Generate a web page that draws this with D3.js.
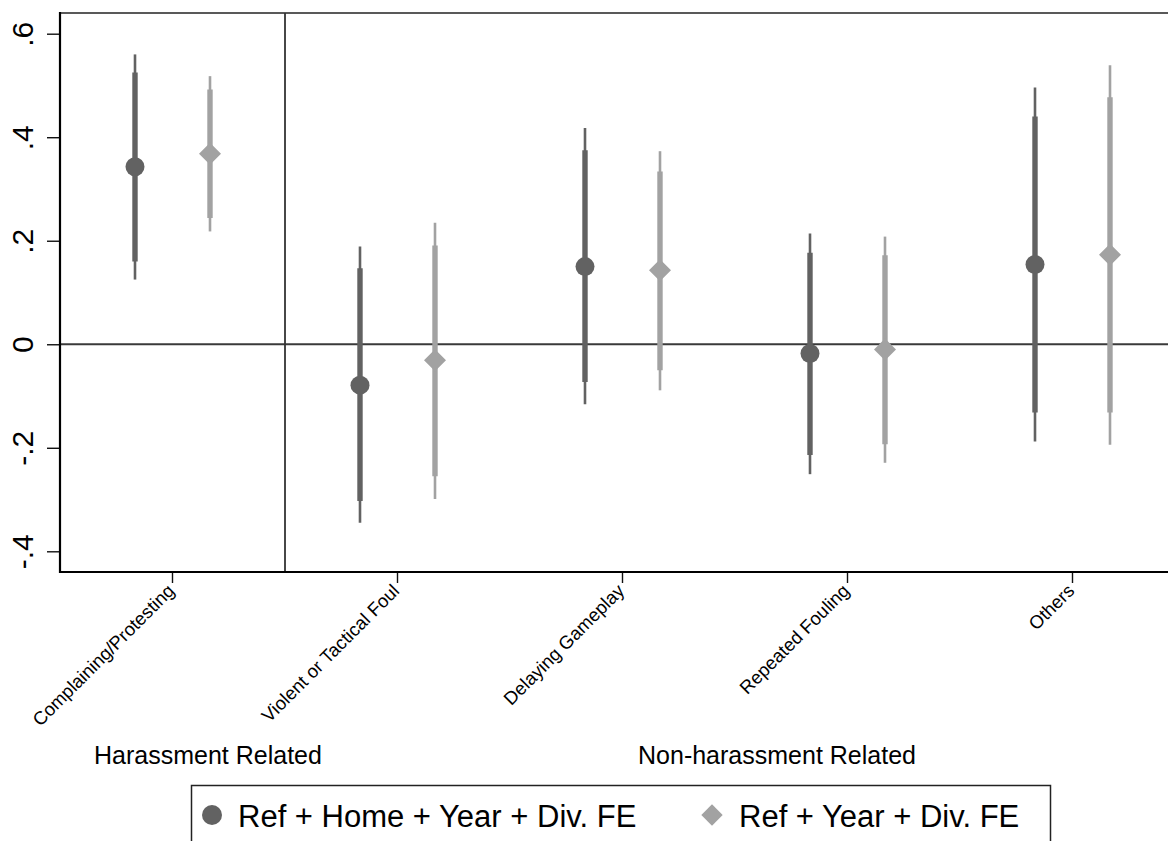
<!DOCTYPE html>
<html>
<head>
<meta charset="utf-8">
<script src="https://cdn.jsdelivr.net/npm/d3@7"></script>
<style>
  body { margin: 0; background: #fff; }
  svg { display: block; font-family: "Liberation Sans", Arial, Helvetica, sans-serif; }
</style>
</head>
<body>
<div id="chart"></div>
<script>
// categories and groups
const categories = ["Complaining/Protesting", "Violent or Tactical Foul", "Delaying Gameplay", "Repeated Fouling", "Others"];
const groupNames = ["Harassment Related", "Non-harassment Related"];
const seriesNames = ["Ref + Home + Year + Div. FE", "Ref + Year + Div. FE"];

// series 1: Ref + Home + Year + Div. FE
const est1 = [0.343, -0.079, 0.150, -0.018, 0.154];
const lo95_1 = [0.125, -0.345, -0.116, -0.251, -0.188];
const hi95_1 = [0.560, 0.189, 0.418, 0.214, 0.496];
const lo90_1 = [0.160, -0.303, -0.073, -0.214, -0.132];
const hi90_1 = [0.525, 0.147, 0.375, 0.177, 0.440];

// series 2: Ref + Year + Div. FE
const est2 = [0.368, -0.031, 0.143, -0.010, 0.173];
const lo95_2 = [0.218, -0.299, -0.089, -0.229, -0.194];
const hi95_2 = [0.518, 0.235, 0.373, 0.208, 0.539];
const lo90_2 = [0.244, -0.255, -0.050, -0.193, -0.132];
const hi90_2 = [0.492, 0.191, 0.334, 0.172, 0.477];

const yTicks = [-0.4, -0.2, 0, 0.2, 0.4, 0.6];
const yTickLabels = ["-.4", "-.2", "0", ".2", ".4", ".6"];

const W = 1168, H = 841;
const margin = { top: 13, left: 60 };
const plotRight = 1185, plotBottom = 572;

const svg = d3.select("#chart").append("svg")
  .attr("width", W)
  .attr("height", H);

const x = d3.scaleBand()
  .domain(categories)
  .range([margin.left, plotRight])
  .padding(0);

const xInner = d3.scalePoint()
  .domain(seriesNames)
  .range([-37.5, 37.5]);

const y = d3.scaleLinear()
  .domain([-0.44, 0.64])
  .range([plotBottom, margin.top]);

const colors = ["#626262", "#a2a2a2"];

// frame: top border
svg.append("line")
  .attr("x1", margin.left).attr("x2", plotRight)
  .attr("y1", margin.top).attr("y2", margin.top)
  .attr("stroke", "#222").attr("stroke-width", 1.6);

// zero line
svg.append("line")
  .attr("x1", margin.left).attr("x2", plotRight)
  .attr("y1", y(0)).attr("y2", y(0))
  .attr("stroke", "#3a3a3a").attr("stroke-width", 2);

// separator between groups
const sepX = x(categories[1]);
svg.append("line")
  .attr("x1", sepX).attr("x2", sepX)
  .attr("y1", margin.top).attr("y2", plotBottom)
  .attr("stroke", "#333").attr("stroke-width", 1.8);

// y axis
const yAxis = d3.axisLeft(y)
  .tickValues(yTicks)
  .tickFormat((d, i) => yTickLabels[i])
  .tickSize(13)
  .tickPadding(0);

const gy = svg.append("g")
  .attr("transform", "translate(" + margin.left + ",0)")
  .call(yAxis);
gy.select(".domain").remove();
gy.selectAll(".tick line").attr("stroke", "#111").attr("stroke-width", 1.4);
gy.selectAll(".tick text")
  .attr("transform", "translate(-27,0) rotate(-90)")
  .attr("x", 0).attr("dy", 0).attr("y", 0)
  .attr("text-anchor", "middle")
  .attr("fill", "#000")
  .style("font-size", "30px");

svg.append("line")
  .attr("x1", margin.left).attr("x2", margin.left)
  .attr("y1", margin.top - 1).attr("y2", plotBottom + 1)
  .attr("stroke", "#000").attr("stroke-width", 2.2);

// x axis
const xAxis = d3.axisBottom(x).tickSize(11).tickPadding(0);
const gx = svg.append("g")
  .attr("transform", "translate(0," + plotBottom + ")")
  .call(xAxis);
gx.select(".domain").remove();
gx.selectAll(".tick line").attr("stroke", "#111").attr("stroke-width", 1.4);
gx.selectAll(".tick text")
  .attr("y", 0).attr("dy", 0)
  .attr("transform", "translate(3,20) rotate(-45)")
  .attr("text-anchor", "end")
  .attr("fill", "#000")
  .style("font-size", "18.5px");

svg.append("line")
  .attr("x1", margin.left - 1).attr("x2", plotRight)
  .attr("y1", plotBottom).attr("y2", plotBottom)
  .attr("stroke", "#000").attr("stroke-width", 2.2);

// group labels
svg.append("text")
  .attr("x", 208).attr("y", 764)
  .attr("text-anchor", "middle")
  .style("font-size", "25px")
  .text(groupNames[0]);
svg.append("text")
  .attr("x", 777).attr("y", 764)
  .attr("text-anchor", "middle")
  .style("font-size", "25px")
  .text(groupNames[1]);

// error bars and markers
const series = [
  { name: seriesNames[0], est: est1, lo95: lo95_1, hi95: hi95_1, lo90: lo90_1, hi90: hi90_1, shape: "circle" },
  { name: seriesNames[1], est: est2, lo95: lo95_2, hi95: hi95_2, lo90: lo90_2, hi90: hi90_2, shape: "diamond" }
];

series.forEach((s, si) => {
  const rows = categories.map((c, i) => ({
    cx: x(c) + x.bandwidth() / 2 + xInner(s.name),
    est: s.est[i], lo95: s.lo95[i], hi95: s.hi95[i], lo90: s.lo90[i], hi90: s.hi90[i]
  }));
  const g = svg.append("g");

  g.selectAll(".ci95").data(rows).enter().append("line")
    .attr("x1", d => d.cx).attr("x2", d => d.cx)
    .attr("y1", d => y(d.lo95)).attr("y2", d => y(d.hi95))
    .attr("stroke", colors[si]).attr("stroke-width", 2.6);

  g.selectAll(".ci90").data(rows).enter().append("line")
    .attr("x1", d => d.cx).attr("x2", d => d.cx)
    .attr("y1", d => y(d.lo90)).attr("y2", d => y(d.hi90))
    .attr("stroke", colors[si]).attr("stroke-width", 5.4);

  if (s.shape === "circle") {
    g.selectAll(".pt").data(rows).enter().append("circle")
      .attr("cx", d => d.cx).attr("cy", d => y(d.est))
      .attr("r", 9.5)
      .attr("fill", colors[si]);
  } else {
    g.selectAll(".pt").data(rows).enter().append("path")
      .attr("d", d3.symbol(d3.symbolDiamond2, 310))
      .attr("transform", d => "translate(" + d.cx + "," + y(d.est) + ")")
      .attr("fill", colors[si]);
  }
});

// legend
const legend = svg.append("g");
legend.append("rect")
  .attr("x", 191.5).attr("y", 785.5)
  .attr("width", 859).attr("height", 70)
  .attr("fill", "none")
  .attr("stroke", "#222").attr("stroke-width", 1.5);

legend.append("circle")
  .attr("cx", 212).attr("cy", 815).attr("r", 10)
  .attr("fill", colors[0]);
legend.append("text")
  .attr("x", 238).attr("y", 827)
  .style("font-size", "31px")
  .text(seriesNames[0]);

legend.append("path")
  .attr("d", d3.symbol(d3.symbolDiamond2, 290))
  .attr("transform", "translate(712,815)")
  .attr("fill", colors[1]);
legend.append("text")
  .attr("x", 739).attr("y", 827)
  .style("font-size", "31px")
  .text(seriesNames[1]);
</script>
</body>
</html>
